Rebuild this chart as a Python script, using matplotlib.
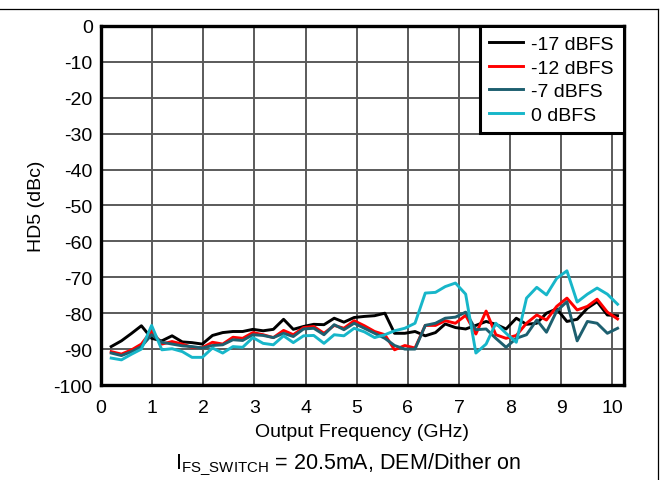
import numpy as np
import matplotlib
matplotlib.use('Agg')
from matplotlib import pyplot as plt
from matplotlib.lines import Line2D

plt.rcParams['font.family'] = ['Liberation Sans', 'DejaVu Sans']
plt.rcParams['mathtext.fontset'] = 'custom'
plt.rcParams['mathtext.rm'] = 'Liberation Sans'
plt.rcParams['axes.unicode_minus'] = False

# Output frequency sample points (GHz)
freq = [0.20, 0.40, 0.60, 0.79, 0.99, 1.19, 1.39, 1.59, 1.78, 1.98,
        2.18, 2.38, 2.58, 2.77, 2.97, 3.17, 3.37, 3.57, 3.76, 3.96,
        4.16, 4.36, 4.56, 4.75, 4.95, 5.15, 5.35, 5.55, 5.74, 5.94,
        6.14, 6.34, 6.54, 6.73, 6.93, 7.13, 7.33, 7.53, 7.72, 7.92,
        8.12, 8.32, 8.52, 8.71, 8.91, 9.11, 9.31, 9.51, 9.70, 9.90, 10.10]

# HD5 (dBc) per input level
hd5_m17 = [-89.3, -87.7, -85.6, -83.5, -87.0, -87.7, -86.3, -88.0, -88.2, -88.6,
           -86.2, -85.4, -85.1, -85.1, -84.5, -84.9, -84.5, -81.7, -84.5, -83.7,
           -83.1, -83.2, -81.4, -82.5, -81.2, -80.9, -80.7, -80.0, -85.6, -85.6,
           -85.1, -86.3, -85.4, -83.0, -84.0, -84.4, -83.4, -82.3, -83.1, -84.4,
           -81.4, -83.1, -82.8, -80.0, -78.8, -82.3, -81.7, -78.6, -76.8, -80.5, -80.7]

hd5_m12 = [-90.7, -91.4, -90.2, -88.6, -84.9, -88.6, -87.9, -88.6, -89.5, -89.6,
           -88.1, -88.6, -86.7, -87.0, -85.4, -86.0, -86.8, -84.8, -86.0, -84.0,
           -83.7, -85.6, -83.4, -84.2, -82.1, -83.5, -85.1, -86.0, -90.2, -89.0,
           -89.7, -83.4, -83.4, -82.1, -82.8, -80.6, -85.8, -79.4, -86.0, -87.0,
           -86.2, -82.8, -80.5, -81.9, -78.1, -75.8, -79.1, -78.1, -76.1, -79.7, -81.6]

hd5_m7 = [-91.1, -91.8, -90.7, -89.3, -86.0, -88.1, -88.6, -89.1, -89.3, -89.7,
          -89.0, -88.8, -87.4, -87.6, -86.0, -86.2, -86.8, -85.6, -86.5, -84.4,
          -84.2, -86.0, -83.2, -84.6, -82.8, -84.2, -85.6, -87.0, -89.0, -90.0,
          -90.0, -83.4, -82.8, -81.4, -81.1, -79.7, -84.6, -84.4, -87.0, -89.5,
          -87.0, -86.0, -81.9, -85.3, -79.4, -76.8, -87.7, -82.3, -82.8, -85.6, -84.2]

hd5_0 = [-92.5, -93.0, -91.4, -90.0, -83.4, -90.2, -89.9, -90.7, -92.3, -92.3,
         -89.7, -91.1, -89.3, -89.5, -86.8, -88.4, -88.8, -86.3, -88.2, -86.3,
         -86.2, -88.4, -86.0, -86.3, -84.2, -85.2, -86.8, -86.0, -84.9, -84.2,
         -82.8, -74.4, -74.2, -72.6, -71.6, -74.7, -91.1, -88.6, -82.8, -85.6,
         -88.1, -75.8, -72.8, -74.9, -70.3, -68.2, -76.9, -74.7, -73.0, -74.7, -77.5]

series = [('-17 dBFS', hd5_m17, '#000000'),
          ('-12 dBFS', hd5_m12, '#ff0000'),
          ('-7 dBFS', hd5_m7, '#1d5f6f'),
          ('0 dBFS', hd5_0, '#17b6c9')]

fig = plt.figure(figsize=(6.6, 4.81), dpi=100)
ax = fig.add_axes([0.153, 0.1975, 0.792, 0.7465])

for label, vals, col in series:
    ax.plot(freq, vals, color=col, lw=2.1, label=label, zorder=3)

ax.set_xlim(0, 10.22)
ax.set_ylim(-100, 0)
ax.set_xticks(np.arange(0, 11, 1))
ax.set_yticks(np.arange(-100, 1, 10))
ax.grid(True, color='#5a5a5a', lw=1.4)
ax.set_axisbelow(True)
ax.tick_params(length=0, labelsize=14)
ax.tick_params(axis='x', pad=10)
ax.tick_params(axis='y', pad=6)
for s in ax.spines.values():
    s.set_linewidth(2.4)

ax.set_xlabel('Output Frequency (GHz)', fontsize=14, labelpad=5)
ax.set_ylabel('HD5 (dBc)', fontsize=14, labelpad=6)

leg = ax.legend(loc='upper right', fontsize=14, fancybox=False, framealpha=1,
                borderaxespad=0, handlelength=1.75, labelspacing=0.3,
                borderpad=0.5, handletextpad=0.42)
leg.get_frame().set_edgecolor('black')
leg.get_frame().set_linewidth(2.2)

fig.text(0.527, 0.034, r'I$_{\mathregular{FS\_SWITCH}}$ = 20.5mA, DEM/Dither on',
         ha='center', va='center', fontsize=15.5)

# page frame lines
fig.add_artist(Line2D([0, 0.997], [0.979, 0.979], color='black', lw=0.9))
fig.add_artist(Line2D([0.997, 0.997], [0, 0.979], color='black', lw=0.9))

plt.savefig('out.png', dpi=100)
